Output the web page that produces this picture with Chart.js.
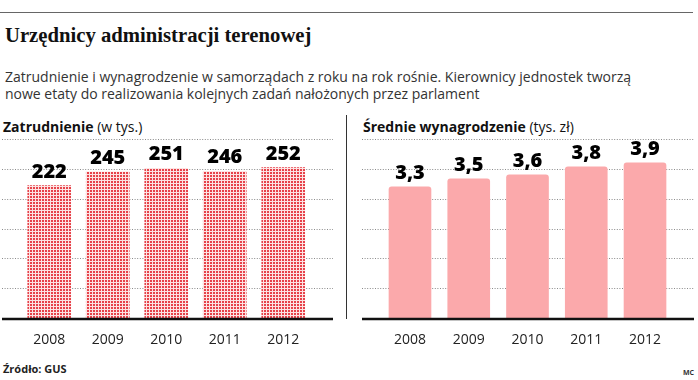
<!DOCTYPE html>
<html><head><meta charset="utf-8">
<script src="https://cdn.jsdelivr.net/npm/chart.js@4/dist/chart.umd.min.js"></script>
<style>
html,body{margin:0;padding:0;background:#fff;width:698px;height:380px;overflow:hidden;position:relative;font-family:"Open Sans",sans-serif;color:#222}
.abs{position:absolute;white-space:nowrap}
#topline{left:0;top:12px;width:693px;height:0;border-top:1.5px solid #666}
#title{left:5px;top:24px;font:bold 20.7px "Liberation Serif",serif;color:#111}
#sub{left:5px;top:68px;font-size:14px;line-height:17px;color:#333}
#h1{left:3px;top:117px;font-size:14px;color:#111}
#h2{left:363px;top:117px;font-size:14px;color:#111}
#sep{left:346px;top:115px;width:0;height:204px;border-left:1.5px solid #333}
#src{left:3px;top:361px;font-size:11px;font-weight:bold;color:#222}
#mc{left:683px;top:368px;font-size:7px;font-weight:bold;color:#333}
#c1w{left:0;top:130px;width:340px;height:230px}
#c2w{left:347px;top:130px;width:351px;height:230px}
</style></head><body>
<div class="abs" id="topline"></div>
<div class="abs" id="title">Urzędnicy administracji terenowej</div>
<div class="abs" id="sub">Zatrudnienie i wynagrodzenie w samorządach z roku na rok rośnie. Kierownicy jednostek tworzą<br>nowe etaty do realizowania kolejnych zadań nałożonych przez parlament</div>
<div class="abs" id="h1"><b>Zatrudnienie</b> (w tys.)</div>
<div class="abs" id="h2"><b>Średnie wynagrodzenie</b> (tys. zł)</div>
<div class="abs" id="sep"></div>
<div class="abs" id="src">Źródło: GUS</div>
<div class="abs" id="mc">MC</div>
<div class="abs" id="c1w"><canvas id="c1"></canvas></div>
<div class="abs" id="c2w"><canvas id="c2"></canvas></div>
<script>
const years = ['2008','2009','2010','2011','2012'];
const employment = [222, 245, 251, 246, 252];
const salary = [3.3, 3.5, 3.6, 3.8, 3.9];
const employmentMax = 300, employmentStep = 50;
const salaryMax = 4.5, salaryStep = 0.75;

function makePattern(){
  const c = document.createElement('canvas'); c.width = 3; c.height = 3;
  const x = c.getContext('2d');
  x.fillStyle = '#fde3e3'; x.fillRect(0,0,3,3);
  x.fillStyle = '#e6424a'; x.fillRect(0,0,2,2);
  return x.createPattern(c,'repeat');
}

function gridPlugin(x0, x1){
  return {
    id:'grid',
    beforeDatasetsDraw(chart){
      const ctx = chart.ctx, ys = chart.scales.y;
      ctx.save();
      ctx.strokeStyle = '#8a8a8a'; ctx.lineWidth = 1; ctx.setLineDash([1,1.6]);
      ys.ticks.forEach(t => {
        if (t.value === 0) return;
        const y = Math.round(ys.getPixelForValue(t.value)) + 0.5;
        ctx.beginPath(); ctx.moveTo(x0, y); ctx.lineTo(x1, y); ctx.stroke();
      });
      ctx.restore();
    },
    afterDatasetsDraw(chart){
      const ctx = chart.ctx, ys = chart.scales.y;
      const y = ys.getPixelForValue(0);
      ctx.save();
      ctx.strokeStyle = '#111'; ctx.lineWidth = 2.5;
      ctx.beginPath(); ctx.moveTo(x0, y+1); ctx.lineTo(x1, y+1); ctx.stroke();
      ctx.restore();
    }
  };
}

const labelPlugin = {
  id:'vals',
  afterDatasetsDraw(chart, args, opts){
    const ctx = chart.ctx;
    const meta = chart.getDatasetMeta(0);
    const data = chart.data.datasets[0].data;
    ctx.save();
    ctx.fillStyle = '#000';
    ctx.font = '900 20px "Open Sans", sans-serif';
    ctx.textAlign = 'center'; ctx.textBaseline = 'alphabetic';
    meta.data.forEach((bar, i) => {
      const txt = opts.decimal ? data[i].toFixed(1).replace('.', ',') : String(data[i]);
      ctx.fillText(txt, bar.x, bar.y - 8);
    });
    ctx.restore();
  }
};

function build(id, values, max, step, bg, thickness, radius, padL, padR, x0, x1, decimal){
  return new Chart(document.getElementById(id), {
    type:'bar',
    data:{ labels: years, datasets:[{ data: values, backgroundColor: bg, barThickness: thickness, borderRadius: radius, borderSkipped:'bottom' }]},
    options:{
      responsive:true, maintainAspectRatio:false, animation:false,
      layout:{ padding:{ left:padL, right:padR, top:9, bottom:12 } },
      plugins:{ legend:{display:false}, tooltip:{enabled:false}, vals:{ decimal } },
      scales:{
        x:{ grid:{display:false}, border:{display:false},
            ticks:{ color:'#222', padding:6, font:{ family:'"Open Sans", sans-serif', size:14 } },
            afterFit(s){ s.height = 30; } },
        y:{ min:0, max:max, ticks:{ display:false, stepSize: step }, grid:{display:false}, border:{display:false},
            afterFit(s){ s.width = 0; } }
      }
    },
    plugins:[gridPlugin(x0, x1), labelPlugin]
  });
}

build('c1', employment, employmentMax, employmentStep, makePattern(), 43, 0, 20, 27.5, 2, 333, false);
build('c2', salary, salaryMax, salaryStep, '#fba9ab', 42, 3, 33.6, 23.6, 15, 347, true);
</script>
</body></html>
